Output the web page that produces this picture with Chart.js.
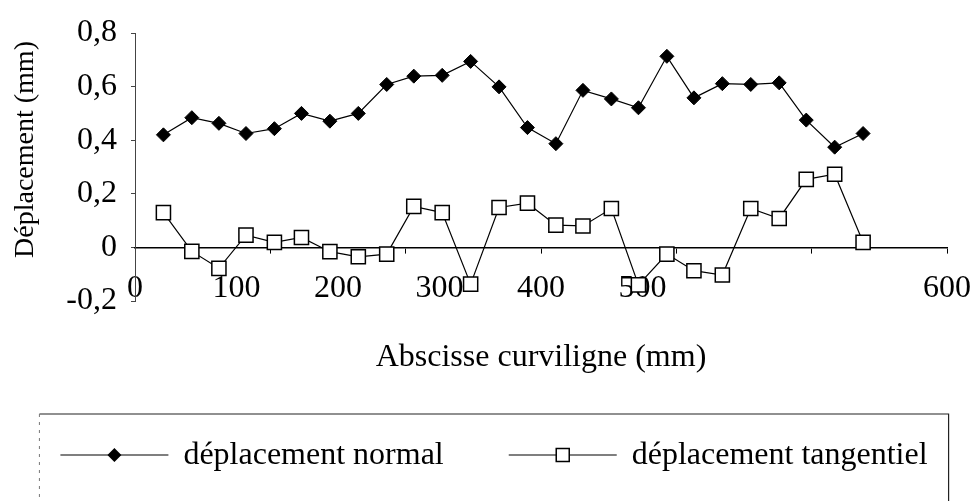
<!DOCTYPE html>
<html lang="fr">

<head>
    <meta charset="UTF-8">
    <script src="https://cdn.jsdelivr.net/npm/chart.js"></script>
    <title>Déplacement</title>
    <style>
        body { margin: 0; background: #fff; }
    </style>
</head>

<body>
    <canvas id="myChart" width="972" height="501"></canvas>

<script>
    // abscisse curviligne (mm) of each measuring point
    const abscisse = [21, 42, 62, 82, 103, 123, 144, 165, 186, 206, 227, 248, 269,
        290, 311, 331, 352, 372, 393, 413, 434, 455, 476, 496, 517, 538];
    const deplNormal = [0.42, 0.484, 0.463, 0.425, 0.443, 0.50, 0.471, 0.50, 0.608, 0.639, 0.642, 0.694, 0.599,
        0.447, 0.387, 0.586, 0.554, 0.521, 0.713, 0.558, 0.611, 0.608, 0.614, 0.475, 0.374, 0.425];
    const deplTangentiel = [0.130, -0.015, -0.078, 0.046, 0.019, 0.037, -0.016, -0.035, -0.025, 0.153, 0.130, -0.137, 0.149,
        0.165, 0.083, 0.080, 0.145, -0.140, -0.025, -0.087, -0.103, 0.145, 0.108, 0.254, 0.273, 0.019];
    const seriesNames = ['déplacement normal', 'déplacement tangentiel'];
    const yTickLabels = ['-0,2', '0', '0,2', '0,4', '0,6', '0,8'];
    const xTickLabels = ['0', '100', '200', '300', '400', '500', '600'];

    // in the original figure the x labels don't sit under their tick marks
    const xLabelAt = [0, 75, 150, 225, 300, 375, 600];

    const FONT = '"Liberation Serif", "DejaVu Serif", serif';
    Chart.defaults.font.family = FONT;
    Chart.defaults.color = '#000';

    // line + marker, like the excel legend
    function drawSymbol(g, x, y, filled) {
        g.strokeStyle = '#000';
        g.lineWidth = 1.2;
        g.beginPath();
        g.moveTo(x, y);
        g.lineTo(x + 108, y);
        g.stroke();
        const cx = x + 54;
        if (filled) {
            g.fillStyle = '#000';
            g.beginPath();
            g.moveTo(cx, y - 7); g.lineTo(cx + 7, y); g.lineTo(cx, y + 7); g.lineTo(cx - 7, y);
            g.closePath();
            g.fill();
        } else {
            g.fillStyle = '#fff';
            g.lineWidth = 1.5;
            g.fillRect(cx - 6.5, y - 6.5, 13, 13);
            g.strokeRect(cx - 6.5, y - 6.5, 13, 13);
        }
    }

    // legend drawn by hand: one row in a box that runs off the bottom
    const frameLegend = {
        id: 'frameLegend',
        afterDraw(chart) {
            const ctx = chart.ctx;
            const sets = chart.data.datasets;
            ctx.save();
            ctx.font = '32px ' + FONT;
            ctx.textBaseline = 'middle';
            ctx.fillStyle = '#000';
            const widths = sets.map(ds => 108 + 15 + ctx.measureText(ds.label).width);
            const gap = 65;
            const total = widths.reduce((a, b) => a + b, 0) + gap * (sets.length - 1);
            const y = chart.height - 46;
            let x = chart.width / 2 + 8 - total / 2;
            const left = x - 21;
            sets.forEach((ds, i) => {
                drawSymbol(ctx, x, y, i === 0);
                ctx.fillStyle = '#000';
                ctx.fillText(ds.label, x + 123, y + 1);
                x += widths[i] + gap;
            });
            const right = x - gap + 21;
            const top = y - 41;
            const bottom = chart.height + 10;
            ctx.strokeStyle = '#222';
            ctx.lineWidth = 1.2;
            ctx.beginPath();
            ctx.moveTo(left, top);
            ctx.lineTo(right, top);
            ctx.lineTo(right, bottom);
            ctx.stroke();
            ctx.strokeStyle = '#777';
            ctx.lineWidth = 1;
            ctx.setLineDash([3, 5]);
            ctx.beginPath();
            ctx.moveTo(left, top);
            ctx.lineTo(left, bottom);
            ctx.stroke();
            ctx.restore();
        }
    };

    const toPoints = (vals) => vals.map((v, i) => ({ x: abscisse[i], y: v }));

    var ctx = document.getElementById('myChart').getContext('2d');
    var myChart = new Chart(ctx, {
        type: 'line',
        data: {
            datasets: [{
                label: seriesNames[0],
                data: toPoints(deplNormal),
                xAxisID: 'x',
                yAxisID: 'y',
                borderColor: '#000',
                borderWidth: 1.2,
                backgroundColor: '#000',
                pointStyle: 'rectRot',
                pointRadius: 7,
                pointBackgroundColor: '#000',
                pointBorderColor: '#000',
                pointBorderWidth: 1,
                tension: 0,
                clip: false
            }, {
                label: seriesNames[1],
                data: toPoints(deplTangentiel),
                xAxisID: 'x',
                yAxisID: 'y',
                borderColor: '#000',
                borderWidth: 1.2,
                backgroundColor: '#fff',
                pointStyle: 'rect',
                pointRadius: 10,
                pointBackgroundColor: '#fff',
                pointBorderColor: '#000',
                pointBorderWidth: 1.5,
                tension: 0,
                clip: false
            }]
        },
        options: {
            responsive: false,
            animation: false,
            events: [],
            layout: {
                padding: { top: 33, right: 25, bottom: 0, left: 16 }
            },
            scales: {
                x: {
                    type: 'linear',
                    position: { y: 0 },
                    min: 0,
                    max: 600,
                    ticks: { display: false, stepSize: 100 },
                    grid: { drawOnChartArea: false, drawTicks: true, tickLength: 5, color: '#000', lineWidth: 1 },
                    border: { display: true, color: '#000', width: 1.6 }
                },
                xl: {
                    type: 'linear',
                    axis: 'x',
                    position: { y: 0 },
                    min: 0,
                    max: 600,
                    afterBuildTicks: (axis) => {
                        axis.ticks = xLabelAt.map(v => ({ value: v }));
                    },
                    ticks: {
                        autoSkip: false,
                        maxRotation: 0,
                        padding: 0,
                        font: { size: 32, lineHeight: 2.6 },
                        callback: (value, index) => xTickLabels[index]
                    },
                    grid: { display: false, drawTicks: false },
                    border: { display: false }
                },
                y: {
                    type: 'linear',
                    position: 'left',
                    min: -0.2,
                    max: 0.8,
                    afterFit: (axis) => { axis.width = 119; },
                    ticks: {
                        stepSize: 0.2,
                        autoSkip: false,
                        padding: 14,
                        font: { size: 32, lineHeight: 1 },
                        callback: (value, index) => yTickLabels[index]
                    },
                    grid: { drawOnChartArea: false, drawTicks: true, tickLength: 4, color: '#444' },
                    border: { display: true, color: '#444', width: 1, dash: [3, 3] },
                    title: {
                        display: true,
                        text: '     Déplacement (mm)',
                        font: { size: 28, lineHeight: 0.72 },
                        padding: 0
                    }
                }
            },
            plugins: {
                tooltip: { enabled: false },
                legend: { display: false },
                title: {
                    display: true,
                    text: 'Abscisse curviligne (mm)',
                    position: 'bottom',
                    fullSize: false,
                    align: 'center',
                    color: '#000',
                    font: { size: 32, weight: 'normal', lineHeight: 1 },
                    padding: { top: 41, bottom: 127 }
                }
            }
        },
        plugins: [frameLegend]
    });
</script>
</body>

</html>
